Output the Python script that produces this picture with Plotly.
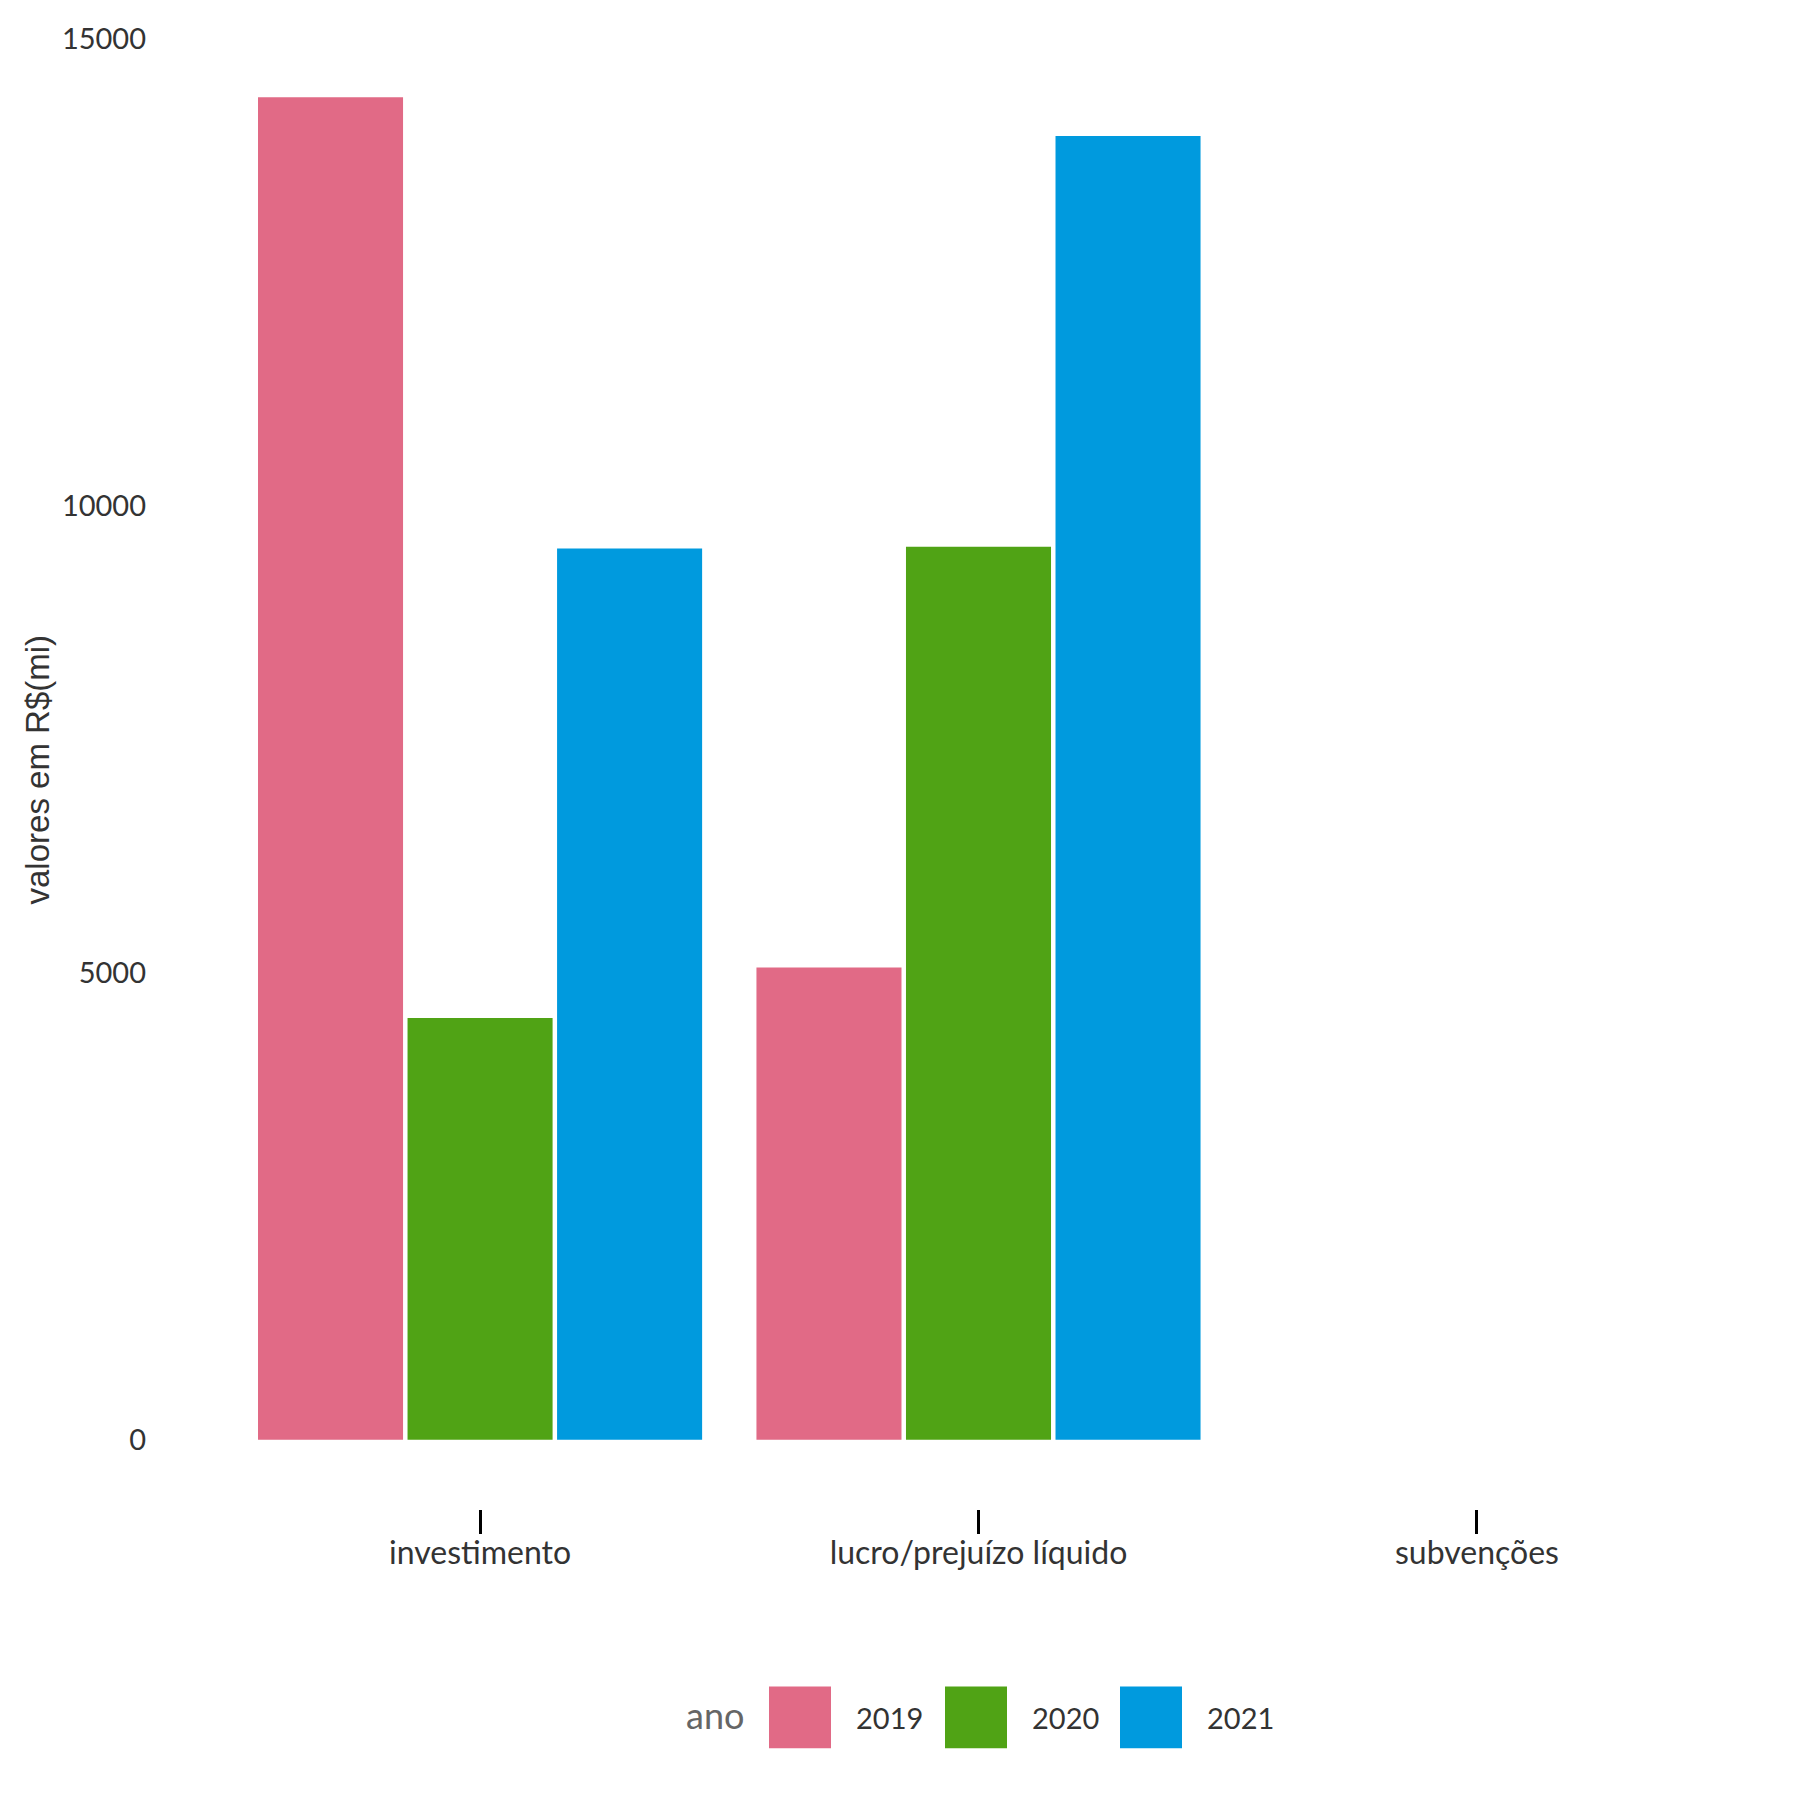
import plotly.graph_objects as go

categorias = ["investimento", "lucro/prejuízo líquido", "subvenções"]
anos = ["2019", "2020", "2021"]
valores_2019 = [14370, 5055, 0]
valores_2020 = [4515, 9560, 0]
valores_2021 = [9540, 13955, 0]
cores = ["#E16A86", "#50A315", "#009ADE"]
y_ticks = [0, 5000, 10000, 15000]
y_ticktext = ["0", "5000", "10000", "15000"]

series = [valores_2019, valores_2020, valores_2021]

# the html page puts the figure 8px in from the top-left corner
OFF = 8
W, H = 1800 - OFF, 1800 - OFF
L, R, T, B = 181 - OFF, 24, 25 - OFF, 291


# page pixel -> paper coords (for the hand made legend)
def px_x(p):
    return (p - OFF - L) / (W - L - R)


def px_y(p):
    return (H - B - (p - OFF)) / (H - T - B)


fig = go.Figure()
for ano, vals, cor in zip(anos, series, cores):
    fig.add_trace(go.Bar(x=categorias, y=vals, name=ano, marker_color=cor,
                         marker_line_width=0, showlegend=False))

fig.update_layout(
    width=W, height=H,
    margin=dict(l=L, r=R, t=T, b=B),
    plot_bgcolor="white", paper_bgcolor="white",
    barmode="group", bargap=0.1, bargroupgap=0.03,
    font=dict(family="Lato", color="#333333"),
)
fig.update_xaxes(
    type="category", categoryorder="array", categoryarray=categorias,
    range=[-0.6, 2.6], showgrid=False, zeroline=False, showline=False,
    ticks="outside", ticklen=24, tickwidth=3, tickcolor="black",
    ticklabelstandoff=-8,
    tickfont=dict(size=32, color="#333333"),
)
fig.update_yaxes(
    range=[-741, 15091], showgrid=False, zeroline=False, showline=False,
    tickvals=y_ticks, ticktext=y_ticktext, ticklabelstandoff=34,
    tickfont=dict(size=29, color="#333333"),
)

# y axis title
fig.add_annotation(text="valores em R$(mi)", textangle=-90, xref="paper", yref="paper",
                   x=px_x(37), y=px_y(767), xanchor="center", yanchor="middle",
                   showarrow=False, font=dict(family="Liberation Sans", size=33, color="#333333"))

# legend
fig.add_annotation(text="ano", xref="paper", yref="paper", x=px_x(746), y=px_y(1716),
                   xanchor="right", yanchor="middle", showarrow=False,
                   font=dict(size=36, color="#666666"))
key_left = [769, 945, 1120]
for k, (ano, cor) in enumerate(zip(anos, cores)):
    x0 = key_left[k]
    fig.add_shape(type="rect", xref="paper", yref="paper",
                  x0=px_x(x0), x1=px_x(x0 + 62), y0=px_y(1687), y1=px_y(1749),
                  fillcolor=cor, line_width=0)
    fig.add_annotation(text=ano, xref="paper", yref="paper", x=px_x(x0 + 85), y=px_y(1718),
                       xanchor="left", yanchor="middle", showarrow=False,
                       font=dict(size=29, color="#333333"))

fig.write_html("out.html")
